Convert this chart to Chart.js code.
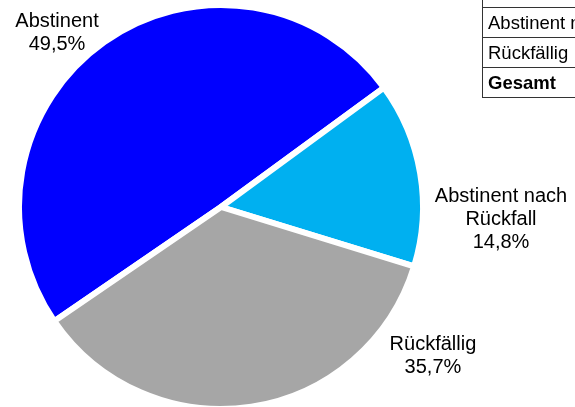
<!DOCTYPE html>
<html>
<head>
<meta charset="utf-8">
<script src="https://cdn.jsdelivr.net/npm/chart.js@4"></script>
<style>
  html, body { margin: 0; padding: 0; background: #fff; }
  #wrap { position: relative; width: 575px; height: 407px; overflow: hidden; }
  #wrap canvas { position: absolute; left: 0; top: 0; }
  #tbl { position: absolute; left: 482px; top: -23px; border-collapse: collapse;
         font-family: "Liberation Sans", Arial, sans-serif; font-size: 18.5px; color: #000; }
  #tbl td { border: 1px solid #333; height: 29px; padding: 0 0 0 5px; width: 160px;
            white-space: nowrap; overflow: hidden; }
  #tbl td.b { font-weight: bold; }
</style>
</head>
<body>
<div id="wrap">
  <canvas id="pie" width="575" height="407"></canvas>
  <table id="tbl"></table>
</div>
<script>
const categories = ['Abstinent', 'Abstinent nach Rückfall', 'Rückfällig'];
const labelLines = [['Abstinent'], ['Abstinent nach', 'Rückfall'], ['Rückfällig']];
const shares = [49.5, 14.8, 35.7];
const colors = ['#0000FF', '#00B0F0', '#A6A6A6'];
const tableRows = ['', 'Abstinent nach Rückfall', 'Rückfällig', 'Gesamt'];

// label block centres, relative to pie centre in units of radius
const labelPos = [[-0.824, -0.874], [1.407, 0.065], [1.065, 0.751]];

const tbl = document.getElementById('tbl');
tableRows.forEach((t, i) => {
    const tr = document.createElement('tr');
    const td = document.createElement('td');
    td.textContent = t;
    if (t === 'Gesamt') td.className = 'b';
    tr.appendChild(td);
    tbl.appendChild(tr);
});

const fmt = v => v.toFixed(1).replace('.', ',') + '%';

const pieLabels = {
    id: 'pieLabels',
    afterDraw(chart) {
        const ctx = chart.ctx;
        const arcs = chart.getDatasetMeta(0).data;
        ctx.save();
        ctx.font = '20px "Liberation Sans", Arial, sans-serif';
        ctx.fillStyle = '#000';
        ctx.textAlign = 'center';
        ctx.textBaseline = 'middle';
        const lh = 23;
        arcs.forEach((arc, i) => {
            const r = arc.outerRadius - 3;
            const cx = arc.x + labelPos[i][0] * r;
            const cy = arc.y + labelPos[i][1] * r;
            const lines = labelLines[i].concat([fmt(shares[i])]);
            const y0 = cy - (lines.length - 1) * lh / 2;
            lines.forEach((s, j) => ctx.fillText(s, cx, y0 + j * lh));
        });
        ctx.restore();
    }
};

new Chart(document.getElementById('pie'), {
    type: 'pie',
    data: {
        labels: categories,
        datasets: [{
            data: shares,
            backgroundColor: colors,
            borderColor: '#ffffff',
            borderWidth: 6
        }]
    },
    options: {
        responsive: false,
        animation: false,
        rotation: 235.6,
        radius: 202,
        layout: { padding: { left: 0, right: 133, top: 7, bottom: 0 } },
        plugins: {
            legend: { display: false },
            tooltip: { enabled: false }
        }
    },
    plugins: [pieLabels]
});
</script>
</body>
</html>
